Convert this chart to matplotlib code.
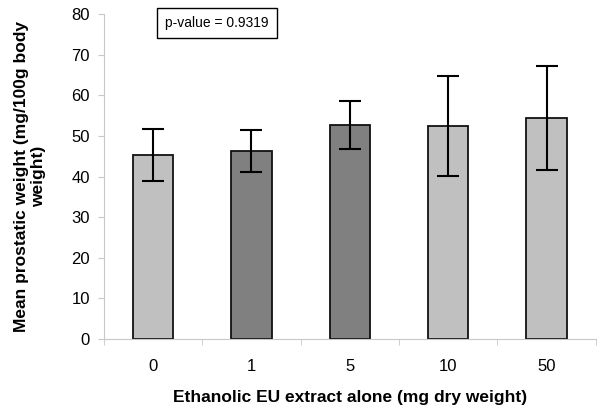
import matplotlib
matplotlib.use("Agg")
import matplotlib.pyplot as plt
import numpy as np

plt.rcParams['font.family'] = ['Liberation Sans', 'DejaVu Sans']

doses = ['0', '1', '5', '10', '50']
means = [45.3, 46.3, 52.8, 52.5, 54.4]
errors = [6.4, 5.2, 5.9, 12.3, 12.8]
colors = ['#C0C0C0', '#808080', '#808080', '#C0C0C0', '#C0C0C0']

fig = plt.figure(figsize=(6, 4.13), dpi=100)
ax = fig.add_axes([0.173, 0.179, 0.82, 0.787])

x = np.arange(len(doses))
ax.bar(x, means, width=0.41, color=colors, edgecolor='#111111', linewidth=1.3,
       yerr=errors, error_kw=dict(ecolor='black', elinewidth=1.5, capsize=8, capthick=1.5))

ax.set_xlim(-0.5, len(doses) - 0.5)
ax.set_ylim(0, 80)
ax.set_yticks(range(0, 81, 10))
ax.set_xticks(x)
ax.set_xticklabels(doses)
ax.set_xticks(np.arange(-0.5, len(doses), 1), minor=True)
ax.tick_params(axis='x', which='major', length=0, labelsize=12, pad=14)
ax.tick_params(axis='x', which='minor', length=4, color='#C8C8C8')
ax.tick_params(axis='y', length=4, color='#C8C8C8', labelsize=12, pad=6)

for s in ['top', 'right']:
    ax.spines[s].set_visible(False)
for s in ['left', 'bottom']:
    ax.spines[s].set_color('#C8C8C8')

ax.set_xlabel('Ethanolic EU extract alone (mg dry weight)', fontsize=12.5, fontweight='bold', labelpad=12)
ax.set_ylabel('Mean prostatic weight (mg/100g body\nweight)', fontsize=12.5, fontweight='bold',
              labelpad=18, multialignment='center')

fig.text(0.362, 0.944, 'p-value = 0.9319', fontsize=10, ha='center', va='center',
         bbox=dict(boxstyle='square,pad=0.6', facecolor='white', edgecolor='black', linewidth=1))

fig.savefig('out.png', dpi=100)
